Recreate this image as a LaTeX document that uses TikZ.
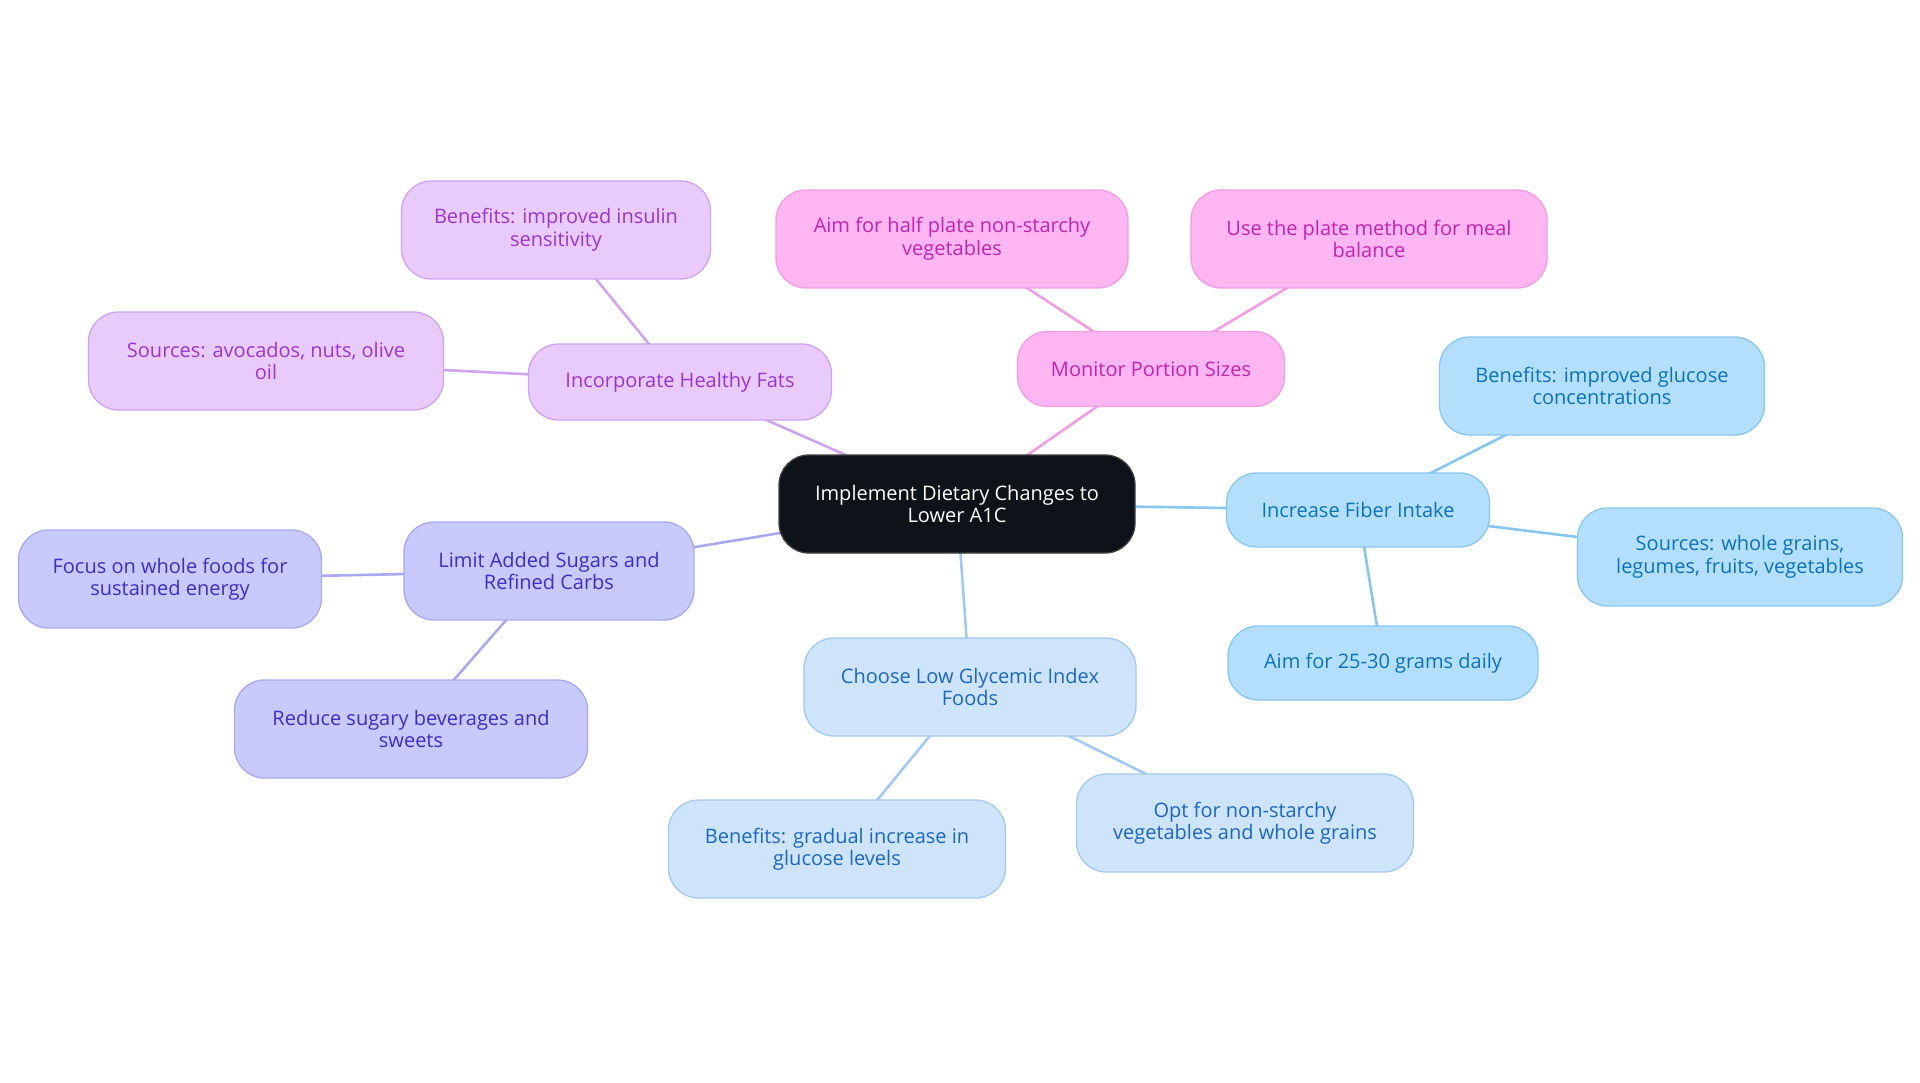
\documentclass[tikz,border=0pt]{standalone}
\usepackage{fontspec}
\setmainfont{Open Sans}
\usetikzlibrary{backgrounds}
\definecolor{hubfill}{HTML}{0E1319}
\definecolor{fatsfill}{HTML}{E9CBFB}
\definecolor{fatsdraw}{HTML}{CFA3EF}
\definecolor{fatstext}{HTML}{9A35CF}
\definecolor{sugarfill}{HTML}{C8C9FC}
\definecolor{sugardraw}{HTML}{A8A9F0}
\definecolor{sugartext}{HTML}{3B2FC4}
\definecolor{gifill}{HTML}{CDE4FB}
\definecolor{gidraw}{HTML}{A3C9F0}
\definecolor{gitext}{HTML}{1D67C0}
\definecolor{portionfill}{HTML}{FDB6F1}
\definecolor{portiondraw}{HTML}{F29CE2}
\definecolor{portiontext}{HTML}{C324AF}
\definecolor{fiberfill}{HTML}{B4DFFC}
\definecolor{fiberdraw}{HTML}{86C6F0}
\definecolor{fibertext}{HTML}{0B73BA}

\begin{document}
\begin{tikzpicture}[x=1pt,y=-1pt,
  every node/.style={align=center,font=\fontsize{20}{22.5}\selectfont},
  card/.style={rounded corners=30pt,line width=1.3pt,minimum height=98pt,inner sep=4pt},
  hub/.style={card,fill=hubfill,draw=black!75,text=white},
  fatsbox/.style={card,fill=fatsfill,draw=fatsdraw,text=fatstext},
  sugarbox/.style={card,fill=sugarfill,draw=sugardraw,text=sugartext},
  gibox/.style={card,fill=gifill,draw=gidraw,text=gitext},
  portionbox/.style={card,fill=portionfill,draw=portiondraw,text=portiontext},
  fiberbox/.style={card,fill=fiberfill,draw=fiberdraw,text=fibertext},
  link/.style={line width=2.6pt}]

\useasboundingbox (0,0) rectangle (1920,1083);

%%%%%%%%%%%%%%%%%%%%%%%%%%%%%%%%%%%%%%

\node[hub,minimum width=356pt] (diet) at (957,504) {Implement Dietary Changes to\\Lower A1C};

%%%%%%%%%%%%%%%%%%%%%%%%%%%%%%%%%%%%%%

\node[fatsbox,minimum width=303pt,minimum height=76pt] (fats) at (680,382) {Incorporate Healthy Fats};
\node[fatsbox,minimum width=309pt] (insulin) at (556,230) {Benefits: improved insulin\\sensitivity};
\node[fatsbox,minimum width=355pt] (avocado) at (266,361) {Sources: avocados, nuts, olive\\oil};

%%%%%%%%%%%%%%%%%%%%%%%%%%%%%%%%%%%%%%

\node[sugarbox,minimum width=290pt] (sugar) at (549,571) {Limit Added Sugars and\\Refined Carbs};
\node[sugarbox,minimum width=303pt] (whole) at (170,579) {Focus on whole foods for\\sustained energy};
\node[sugarbox,minimum width=353pt] (sweets) at (411,729) {Reduce sugary beverages and\\sweets};

%%%%%%%%%%%%%%%%%%%%%%%%%%%%%%%%%%%%%%

\node[gibox,minimum width=332pt] (gi) at (970,687) {Choose Low Glycemic Index\\Foods};
\node[gibox,minimum width=337pt] (gradual) at (837,849) {Benefits: gradual increase in\\glucose levels};
\node[gibox,minimum width=337pt] (starch) at (1245,823) {Opt for non-starchy\\vegetables and whole grains};

%%%%%%%%%%%%%%%%%%%%%%%%%%%%%%%%%%%%%%

\node[portionbox,minimum width=267pt,minimum height=75pt] (portion) at (1151,369) {Monitor Portion Sizes};
\node[portionbox,minimum width=352pt] (half) at (952,239) {Aim for half plate non-starchy\\vegetables};
\node[portionbox,minimum width=356pt] (plate) at (1369,239) {Use the plate method for meal\\balance};

%%%%%%%%%%%%%%%%%%%%%%%%%%%%%%%%%%%%%%

\node[fiberbox,minimum width=263pt,minimum height=74pt] (fiber) at (1358,510) {Increase Fiber Intake};
\node[fiberbox,minimum width=325pt] (glucose) at (1602,386) {Benefits: improved glucose\\concentrations};
\node[fiberbox,minimum width=325pt] (grains) at (1740,557) {Sources: whole grains,\\legumes, fruits, vegetables};
\node[fiberbox,minimum width=310pt,minimum height=74pt] (grams) at (1383,663) {Aim for 25-30 grams daily};

%%%%%%%%%%%%%%%%%%%%%%%%%%%%%%%%%%%%%%

\begin{scope}[on background layer]
\draw[link,draw=fatsdraw] (diet.center) -- (fats.center);
\draw[link,draw=fatsdraw] (fats.center) -- (insulin.center);
\draw[link,draw=fatsdraw] (fats.center) -- (avocado.center);
\draw[link,draw=sugardraw] (diet.center) -- (sugar.center);
\draw[link,draw=sugardraw] (sugar.center) -- (whole.center);
\draw[link,draw=sugardraw] (sugar.center) -- (sweets.center);
\draw[link,draw=gidraw] (diet.center) -- (gi.center);
\draw[link,draw=gidraw] (gi.center) -- (gradual.center);
\draw[link,draw=gidraw] (gi.center) -- (starch.center);
\draw[link,draw=portiondraw] (diet.center) -- (portion.center);
\draw[link,draw=portiondraw] (portion.center) -- (half.center);
\draw[link,draw=portiondraw] (portion.center) -- (plate.center);
\draw[link,draw=fiberdraw] (diet.center) -- (fiber.center);
\draw[link,draw=fiberdraw] (fiber.center) -- (glucose.center);
\draw[link,draw=fiberdraw] (fiber.center) -- (grains.center);
\draw[link,draw=fiberdraw] (fiber.center) -- (grams.center);
\end{scope}

\end{tikzpicture}
\end{document}
